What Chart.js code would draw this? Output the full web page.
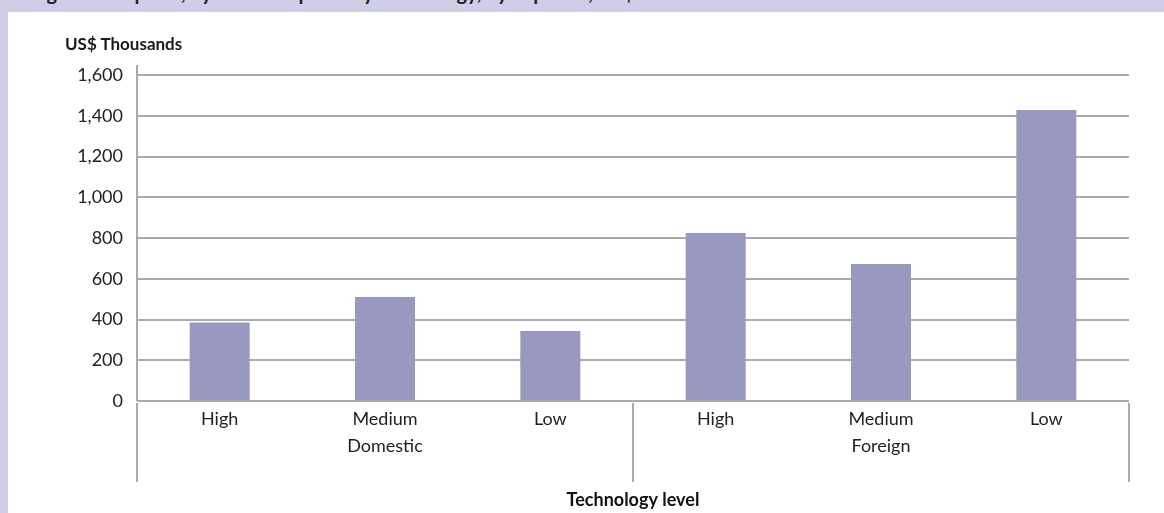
<!DOCTYPE html>
<html>
<head>
<meta charset="utf-8">
<script src="https://cdn.jsdelivr.net/npm/chart.js@4"></script>
<style>
  body { margin: 0; width: 1164px; height: 513px; background: #d0cee6; overflow: hidden; font-family: Lato, sans-serif; }
  #band { position: absolute; left: 0; top: 0; width: 1164px; height: 12px; overflow: hidden; }
  #band div { position: absolute; left: 30px; top: -20px; font-weight: bold; font-size: 20px; color: #222; white-space: nowrap; }
  #panel { position: absolute; left: 8px; top: 12px; width: 1156px; height: 501px; background: #fff; }
  #ytitle { position: absolute; left: 65px; top: 33px; font-weight: bold; font-size: 17px; color: #1a1a1a; }
  canvas { position: absolute; left: 0; top: 0; }
</style>
</head>
<body>
<div id="band"><div>Figure 4: Exports, by ownership and by technology, by exporter, US$ thousands</div></div>
<div id="panel"><canvas id="myChart" width="1156" height="501"></canvas></div>
<div id="ytitle">US$ Thousands</div>
<script>
const groups = ['Domestic', 'Foreign'];
const levels = ['High', 'Medium', 'Low'];
const values = [385, 510, 343, 825, 672, 1428];
const yMax = 1600;
const yStep = 200;

const labels = [];
groups.forEach(g => {
    levels.forEach((l, i) => {
        labels.push(i === 1 ? [l, g] : l);
    });
});

const gridColor = '#aaaaaa';

const separators = {
    id: 'separators',
    afterDraw: (chart) => {
        const { ctx, chartArea, scales } = chart;
        const x = scales.x;
        ctx.save();
        ctx.strokeStyle = gridColor;
        ctx.lineWidth = 2;
        ctx.beginPath();
        // y axis line, a bit above the top gridline
        ctx.moveTo(chartArea.left, chartArea.top - 10);
        ctx.lineTo(chartArea.left, chartArea.bottom);
        // group separators below the axis
        const mid = (x.getPixelForValue(2) + x.getPixelForValue(3)) / 2;
        [chartArea.left, mid, chartArea.right].forEach(px => {
            ctx.moveTo(px, chartArea.bottom + 2);
            ctx.lineTo(px, chartArea.bottom + 81);
        });
        ctx.stroke();
        ctx.restore();
    }
};

const ctx = document.getElementById('myChart');
new Chart(ctx, {
    type: 'bar',
    data: {
        labels: labels,
        datasets: [{
            data: values,
            backgroundColor: '#9998bf',
            categoryPercentage: 1,
            barPercentage: 0.363
        }]
    },
    options: {
        responsive: false,
        animation: false,
        layout: { padding: { top: 63, right: 35, left: 0, bottom: 0 } },
        plugins: { legend: { display: false }, tooltip: { enabled: false } },
        scales: {
            x: {
                grid: { display: false, drawTicks: false },
                border: { display: false },
                ticks: {
                    color: '#222',
                    font: { family: 'Lato', size: 18, lineHeight: 1.5 },
                    padding: 5,
                    maxRotation: 0,
                    autoSkip: false
                },
                title: {
                    display: true,
                    text: 'Technology level',
                    color: '#111',
                    font: { family: 'Lato', size: 18, weight: 'bold' },
                    padding: { top: 0, bottom: 2 }
                },
                afterFit: (scale) => { scale.height = 112; }
            },
            y: {
                min: 0,
                max: yMax,
                ticks: {
                    stepSize: yStep,
                    color: '#222',
                    font: { family: 'Lato', size: 18 },
                    padding: 14
                },
                grid: { color: gridColor, lineWidth: 2, drawTicks: false },
                border: { display: false },
                afterFit: (scale) => { scale.width = 129; }
            }
        }
    },
    plugins: [separators]
});
</script>
</body>
</html>
